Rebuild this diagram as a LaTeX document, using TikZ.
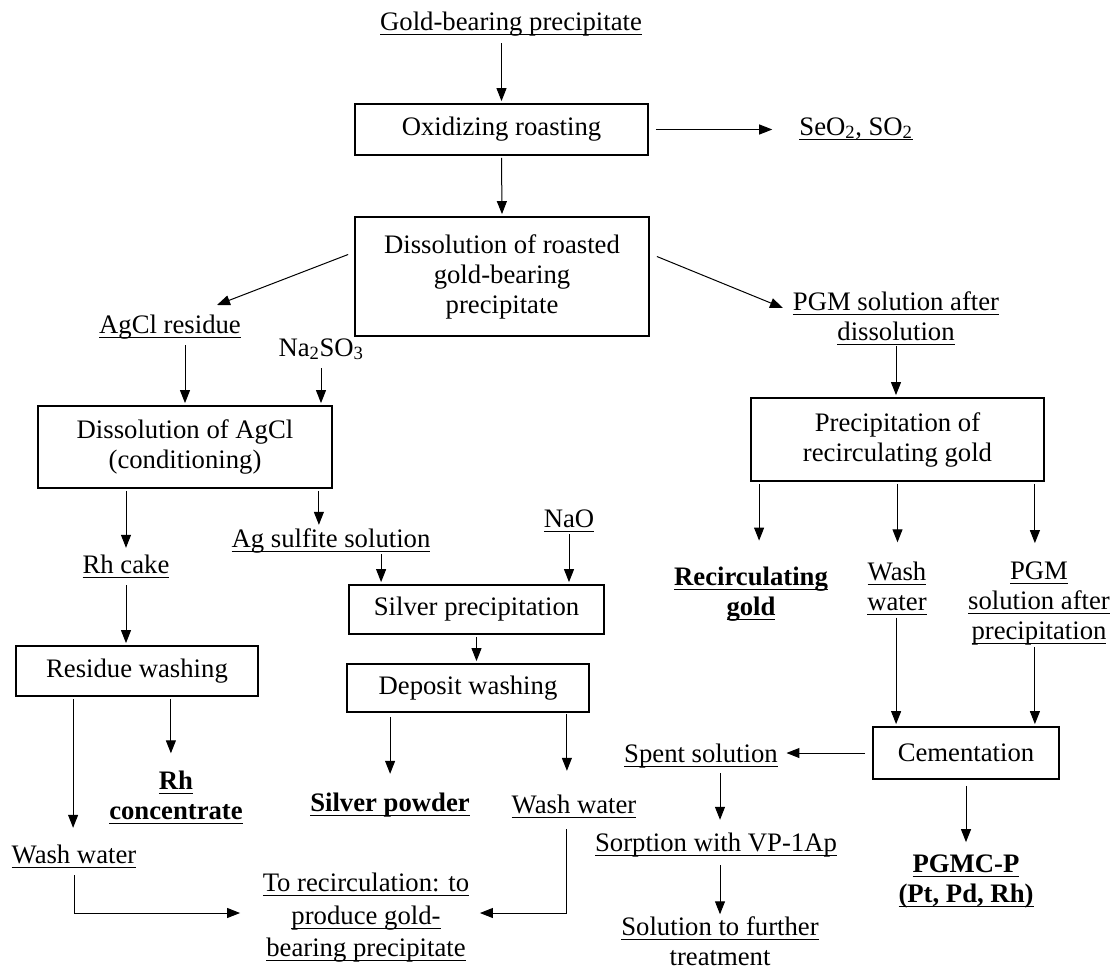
\documentclass[tikz,border=0pt]{standalone}
\usepackage{fontspec}
\setmainfont{Liberation Serif}
\usetikzlibrary{arrows.meta,calc}
\newsavebox\ulbox
\newcommand\undl[1]{\leavevmode\sbox\ulbox{#1}\rlap{\rule[-4.5pt]{\wd\ulbox}{0.9pt}}\usebox\ulbox}
\tikzset{
  txt/.style={font=\fontsize{26.7}{30}\selectfont, inner sep=0pt, align=center},
  bold/.style={font=\fontsize{26.7}{30}\selectfont\bfseries, inner sep=0pt, align=center},
  one/.style={font=\fontsize{26.7}{30}\selectfont, inner sep=0pt, text height=19pt, text depth=7pt},
  onebold/.style={font=\fontsize{26.7}{30}\selectfont\bfseries, inner sep=0pt, text height=19pt, text depth=7pt},
  proc/.style={draw, line width=1.8pt, inner sep=0pt, align=center, font=\fontsize{26.7}{30}\selectfont},
  arr/.style={-{Triangle[length=13pt,width=10pt]}, line width=1pt, shorten <=2pt, shorten >=2pt},
}
\begin{document}
\begin{tikzpicture}[x=1pt,y=-1pt]
\useasboundingbox (0,0) rectangle (1110,969);
% process boxes
\node[proc, minimum width=293pt, minimum height=51pt] (ox) at (501.5,129.5) {Oxidizing roasting};
\node[proc, minimum width=294pt, minimum height=119pt] (dr) at (502,276.5) {Dissolution of roasted\\gold-bearing\\precipitate};
\node[proc, minimum width=294pt, minimum height=82pt] (dagcl) at (185,447) {Dissolution of AgCl\\(conditioning)};
\node[proc, minimum width=293pt, minimum height=83pt] (prg) at (897.5,439.5) {Precipitation of\\recirculating gold};
\node[proc, minimum width=255pt, minimum height=49pt] (sp) at (476.5,609.5) {Silver precipitation};
\node[proc, minimum width=242pt, minimum height=50pt] (rw) at (137,671) {Residue washing};
\node[proc, minimum width=242pt, minimum height=48pt] (dw) at (468,688) {Deposit washing};
\node[proc, minimum width=186pt, minimum height=52pt] (cem) at (966,753) {Cementation};
% labels
\node[one] (gbp) at (511,24) {\undl{Gold-bearing precipitate}};
\node[one] (seo) at (856,129) {\undl{SeO\textsubscript{2}, SO\textsubscript{2}}};
\node[one] (agcl) at (170,327) {\undl{AgCl residue}};
\node[txt] (pgm) at (896,318) {\undl{PGM solution after}\\\undl{dissolution}};
\node[one] (na) at (321,350) {Na\textsubscript{2}SO\textsubscript{3}};
\node[one] (agsul) at (331,541) {\undl{Ag sulfite solution}};
\node[one] (rhcake) at (126,567) {\undl{Rh cake}};
\node[one] (nao) at (569,521) {\undl{NaO}};
\node[bold] (rgold) at (751,594) {\undl{Recirculating}\\\undl{gold}};
\node[txt] (ww1) at (897,588) {\undl{Wash}\\\undl{water}};
\node[txt] (pgm2) at (1039,603) {\undl{PGM}\\\undl{solution after}\\\undl{precipitation}};
\node[bold] (rhconc) at (176,797) {\undl{Rh}\\\undl{concentrate}};
\node[onebold] (spow) at (390,805) {\undl{Silver powder}};
\node[one] (ww2) at (574,807) {\undl{Wash water}};
\node[one] (spent) at (701,756) {\undl{Spent solution}};
\node[one] (sorp) at (716,845) {\undl{Sorption with VP-1Ap}};
\node[bold] (pgmcp) at (966,881) {\undl{PGMC-P}\\\undl{(Pt, Pd, Rh)}};
\node[txt] (sol) at (720,941) {\undl{Solution to further}\\treatment};
\node[one] (wwl) at (74,857) {\undl{Wash water}};
\node[txt, font=\fontsize{26.7}{32.5}\selectfont] (torec) at (366,918) {\undl{To recirculation: to}\\\undl{produce gold-}\\\undl{bearing precipitate}};
% helper coordinates on boxes
\coordinate (c1) at ([xshift=-14pt]dagcl.south east);
\coordinate (c2) at ([xshift=33pt]sp.north west);
\coordinate (c3) at ([xshift=9pt]prg.south west);
\coordinate (c4) at ([xshift=-10pt]prg.south east);
\coordinate (c5) at ([xshift=58pt]rw.south west);
\coordinate (c6) at ([xshift=-88pt]rw.south east);
\coordinate (c7) at ([xshift=44pt]dw.south west);
\coordinate (c8) at ([xshift=-23pt]dw.south east);
\coordinate (c9) at ([xshift=24pt]cem.north west);
\coordinate (c10) at ([xshift=-25pt]cem.north east);
% connectors
\draw[arr, shorten <=6pt] (ox.north |- gbp.south) -- (ox.north);
\draw[arr, shorten <=7pt, shorten >=27pt] (ox.east) -- (ox.east -| seo.west);
\draw[arr] (ox.south) -- (dr.north);
\draw[arr, shorten <=0pt, shorten >=0pt] ([shift={(-6pt,22pt)}]dr.west) -- ([shift={(47pt,22pt)}]agcl.center);
\draw[arr, shorten <=0pt, shorten >=0pt] ([shift={(7pt,20pt)}]dr.east) -- ([shift={(-113pt,10pt)}]pgm.center);
\draw[arr, shorten <=5pt] (dagcl.north |- agcl.south) -- (dagcl.north);
\draw[arr, shorten <=5pt] (na.south) -- (na.south |- dagcl.north);
\draw[arr, shorten <=1pt] (pgm.south) -- (pgm.south |- prg.north);
\draw[arr, shorten >=6pt] (rhcake.north |- dagcl.south) -- (rhcake.north);
\draw[arr, shorten >=3pt] (c1) -- (c1 |- agsul.north);
\draw[arr, shorten <=0pt] (c2 |- agsul.south) -- (c2);
\draw[arr, shorten <=0pt] (nao.south) -- (nao.south |- sp.north);
\draw[arr, shorten <=5pt] (rhcake.south) -- (rhcake.south |- rw.north);
\draw[arr, shorten >=26pt] (c3) -- (c3 |- rgold.north);
\draw[arr, shorten >=19pt] (prg.south) -- (prg.south |- ww1.north);
\draw[arr, shorten >=18pt] (c4) -- (c4 |- pgm2.north);
\draw[arr] (sp.south) -- (sp.south |- dw.north);
\draw[arr, shorten >=16pt] (c5) -- (c5 |- wwl.north);
\draw[arr, shorten >=17pt] (c6) -- (c6 |- rhconc.north);
\draw[arr, shorten <=4pt, shorten >=18pt] (c7) -- (c7 |- spow.north);
\draw[arr, shorten <=1pt, shorten >=23pt] (c8) -- (c8 |- ww2.north);
\draw[arr, shorten <=3pt] (c9 |- ww1.south) -- (c9);
\draw[arr, shorten <=2pt] (c10 |- pgm2.south) -- (c10);
\draw[arr, shorten <=7pt, shorten >=8.5pt] (cem.west) -- (cem.west -| spent.east);
\draw[arr, shorten <=6pt, shorten >=12pt] (cem.south) -- (cem.south |- pgmcp.north);
\draw[arr, shorten <=4pt, shorten >=12pt] (sol.north |- spent.south) -- (sol.north |- sorp.north);
\draw[arr, shorten <=7pt, shorten >=2pt] (sol.north |- sorp.south) -- (sol.north);
\draw[arr, shorten <=5pt, shorten >=22.5pt] (wwl.south) |- ([yshift=5pt]torec.west);
\draw[arr, shorten <=9pt, shorten >=10.5pt] (c8 |- ww2.south) |- ([yshift=5pt]torec.east);
\end{tikzpicture}
\end{document}
